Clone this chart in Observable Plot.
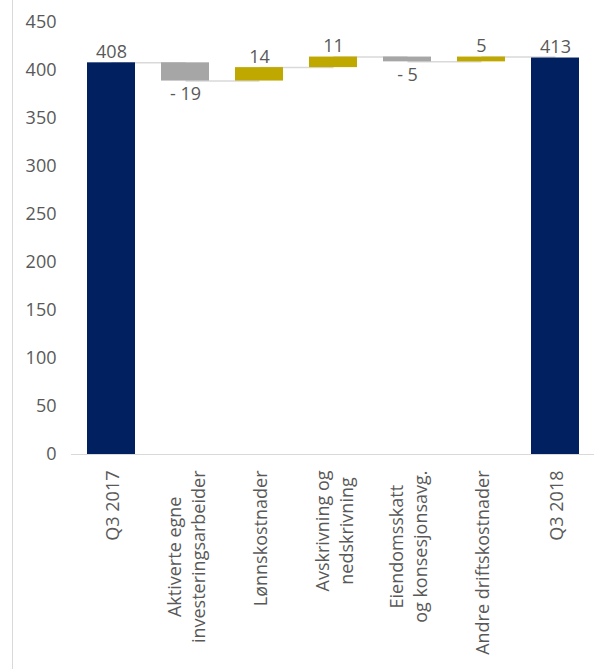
<!DOCTYPE html>
<html><head><meta charset="utf-8">
<script src="https://cdn.jsdelivr.net/npm/d3@7"></script>
<script src="https://cdn.jsdelivr.net/npm/@observablehq/plot@0.6"></script>
<style>
body{margin:0;background:#fff;}
#wrap{position:relative;width:602px;height:669px;overflow:hidden;background:#fff;}
#border{position:absolute;left:12px;top:0;width:1px;height:669px;background:#d9d9d9;}
#chart{position:absolute;left:0;top:0;}
</style></head><body><div id="wrap"><div id="border"></div><div id="chart"></div></div>
<script>
const categories = ["Q3 2017", "Aktiverte egne\ninvesteringsarbeider", "Lønnskostnader", "Avskrivning og\nnedskrivning", "Eiendomsskatt\nog konsesjonsavg.", "Andre driftskostnader", "Q3 2018"];
const kinds = ["total", "delta", "delta", "delta", "delta", "delta", "total"];
const values = [408, -19, 14, 11, -5, 5, 413];
const yTicks = [0, 50, 100, 150, 200, 250, 300, 350, 400, 450];

const colorTotal = "#002060", colorUp = "#BFA800", colorDown = "#A6A6A6";

let run = 0;
const rows = categories.map((c, i) => {
  let y1, y2;
  if (kinds[i] === "total") { y1 = 0; y2 = values[i]; }
  else { y1 = run; y2 = run + values[i]; }
  run = y2;
  const color = kinds[i] === "total" ? colorTotal : (values[i] < 0 ? colorDown : colorUp);
  const label = values[i] < 0 ? "- " + Math.abs(values[i]) : String(values[i]);
  return {cat: c, y1, y2, value: values[i], color, label, top: Math.max(y1, y2), bottom: Math.min(y1, y2)};
});
const links = rows.slice(0, -1).map((r, i) => ({x1: r.cat, x2: rows[i + 1].cat, y: r.y2}));

const font = "'Open Sans', sans-serif";
const plot = Plot.plot({
  width: 602,
  height: 669,
  marginLeft: 71,
  marginRight: 8,
  marginTop: 22,
  marginBottom: 215,
  style: {fontFamily: font, fontSize: "18px", color: "#595959", background: "transparent", overflow: "visible"},
  x: {domain: categories, paddingInner: 0.356, paddingOuter: 0.178, axis: null},
  y: {domain: [0, 450], axis: null},
  marks: [
    Plot.link(links, {x1: "x1", x2: "x2", y1: "y", y2: "y", stroke: "#d9d9d9", strokeWidth: 1.5}),
    Plot.ruleY([0], {stroke: "#d9d9d9", strokeWidth: 1}),
    Plot.axisY({ticks: yTicks, tickSize: 0, tickPadding: 15, line: true, stroke: "#d9d9d9", fill: "#595959", fontSize: 18, label: null, tickFormat: d => String(d)}),
    Plot.barY(rows, {x: "cat", y1: "y1", y2: "y2", fill: "color"}),
    Plot.text(rows.filter(r => r.value >= 0), {x: "cat", y: "top", text: "label", lineAnchor: "bottom", dy: -5, fill: "#595959", fontSize: 18}),
    Plot.text(rows.filter(r => r.value < 0), {x: "cat", y: "bottom", text: "label", lineAnchor: "top", dy: 6, fill: "#595959", fontSize: 18}),
    Plot.axisX({tickSize: 0, tickPadding: 16, rotate: -90, textAnchor: "end", lineAnchor: "middle", lineHeight: 1.3, fill: "#595959", fontSize: 18, label: null, tickFormat: d => d})
  ]
});
document.getElementById("chart").appendChild(plot);

// center multi-line rotated labels
plot.querySelectorAll("g[aria-label='x-axis tick label'] text").forEach(t => {
  const spans = Array.from(t.querySelectorAll("tspan"));
  if (spans.length > 1) {
    const lens = spans.map(s => s.getComputedTextLength());
    const m = Math.max(...lens);
    spans.forEach((s, i) => s.setAttribute("x", -(m - lens[i]) / 2));
  }
});
</script>
</body></html>
